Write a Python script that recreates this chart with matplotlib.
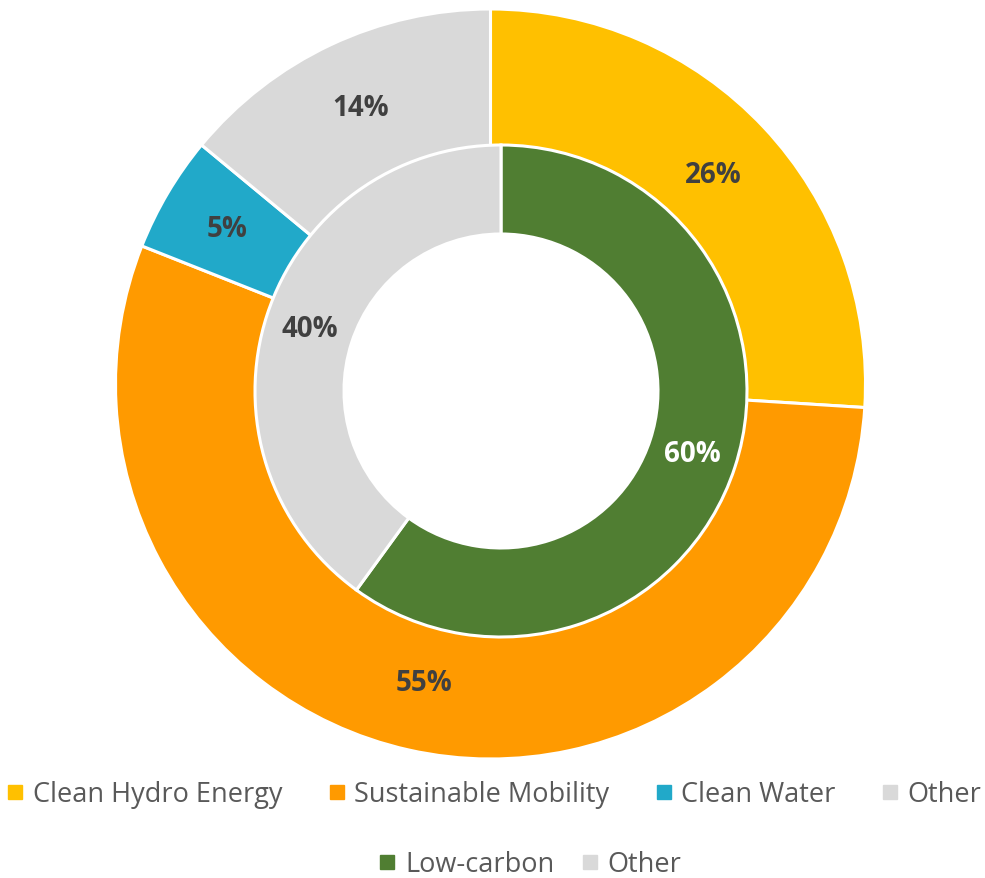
import matplotlib.pyplot as plt
from matplotlib.lines import Line2D

plt.rcParams['font.family'] = ['Open Sans', 'DejaVu Sans']

# outer ring (projects)
outer_labels = ['Clean Hydro Energy', 'Sustainable Mobility', 'Clean Water', 'Other']
outer_values = [26, 55, 5, 14]
outer_colors = ['#FFC000', '#FF9A00', '#21A9C9', '#D9D9D9']

# inner ring
inner_labels = ['Low-carbon', 'Other']
inner_values = [60, 40]
inner_colors = ['#507E32', '#D9D9D9']

W, H = 985, 879
fig = plt.figure(figsize=(W / 100, H / 100), dpi=100)
ax = fig.add_axes([0, 0, 1, 1])

# outer ring goes under the inner one, its inner edge is hidden
w_out, _, t_out = ax.pie(outer_values, colors=outer_colors, startangle=90, counterclock=False,
                         radius=375, center=(490.5, H - 385), autopct='%d%%', pctdistance=0.815,
                         wedgeprops=dict(width=150, edgecolor='white', linewidth=2.2),
                         textprops=dict(fontsize=20, fontweight='bold', color='#404040'))
for t in t_out:
    t.set_zorder(5)
w_in, _, t_in = ax.pie(inner_values, colors=inner_colors, startangle=90, counterclock=False,
                       radius=246, center=(501, H - 392), autopct='%d%%', pctdistance=0.817,
                       wedgeprops=dict(width=89, edgecolor='white', linewidth=2.2),
                       textprops=dict(fontsize=20, fontweight='bold', color='#404040'))
t_in[0].set_color('white')

ax.set_xlim(0, W)
ax.set_ylim(0, H)
ax.axis('off')

def handles(colors):
    return [Line2D([], [], marker='s', linestyle='none', markersize=9.5,
                   markerfacecolor=c, markeredgecolor=c) for c in colors]

leg1 = fig.legend(handles(outer_colors), outer_labels, loc='center', ncol=4,
                  bbox_to_anchor=(495 / W, (H - 795) / H), frameon=False,
                  fontsize=19.5, labelcolor='#595959', handlelength=0.5,
                  handletextpad=0.4, columnspacing=1.75)
leg2 = fig.legend(handles(inner_colors), inner_labels, loc='center', ncol=2,
                  bbox_to_anchor=(531 / W, (H - 865) / H), frameon=False,
                  fontsize=19.5, labelcolor='#595959', handlelength=0.5,
                  handletextpad=0.4, columnspacing=1.07)

fig.savefig('out.png', dpi=100)
